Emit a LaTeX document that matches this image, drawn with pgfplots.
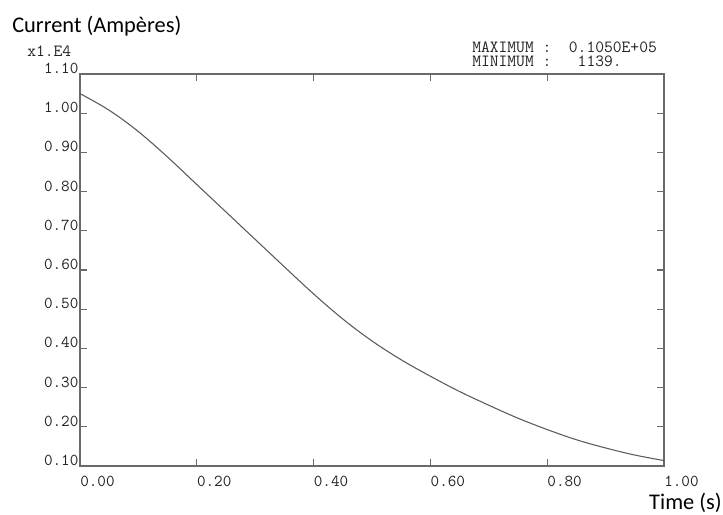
\documentclass[border=0pt]{standalone}
\usepackage{fontspec}
\usepackage{pgfplots}
\pgfplotsset{compat=1.18}
\newfontfamily\carlito{Carlito}
\definecolor{axisgray}{HTML}{6A6A6A}
\definecolor{curvegray}{HTML}{5A5A5A}
\definecolor{txt}{HTML}{222222}
\begin{document}
\begin{tikzpicture}[x=0.75pt,y=-0.75pt]
\useasboundingbox (0,0) rectangle (723,514);
\coordinate (O) at (80,466);
\begin{axis}[
  at={(O)}, anchor=south west,
  scale only axis,
  width=438pt, height=294pt,
  xmin=0, xmax=1, ymin=0.1, ymax=1.1,
  xtick={0,0.2,0.4,0.6,0.8,1.0},
  ytick={0.1,0.2,0.3,0.4,0.5,0.6,0.7,0.8,0.9,1.0,1.1},
  tick align=inside,
  major tick length=5pt,
  axis line style={axisgray, line width=0.9pt},
  every tick/.style={axisgray, line width=0.8pt},
  /pgf/number format/assume math mode=true,
  /pgf/number format/.cd, fixed, fixed zerofill, precision=2, /pgfplots/.cd,
  tick label style={font=\ttfamily\fontsize{12.5}{13}\selectfont, text=txt},
  xticklabel style={anchor=north west, inner sep=0pt, yshift=-7.5pt},
  yticklabel style={anchor=south east, inner sep=0pt, xshift=-1pt},
  clip=false,
]
\addplot[curvegray, line width=0.8pt, smooth, tension=0.6] coordinates {
(0,1.050)
(0.05,1.0075)
(0.10,0.953)
(0.15,0.888)
(0.20,0.818)
(0.25,0.748)
(0.30,0.678)
(0.35,0.608)
(0.40,0.539)
(0.45,0.475)
(0.50,0.419)
(0.55,0.371)
(0.60,0.329)
(0.65,0.290)
(0.70,0.255)
(0.75,0.222)
(0.80,0.193)
(0.85,0.167)
(0.90,0.146)
(0.95,0.128)
(1.00,0.1139)
};
\end{axis}
\node[anchor=base west, inner sep=0pt, font=\carlito\fontsize{16.8}{18}\selectfont] at (12,32) {Current (Ampères)};
\node[anchor=base west, inner sep=0pt, text=txt, font=\ttfamily\fontsize{12.8}{13}\selectfont] at (27,56) {x1.E4};
\node[anchor=north west, inner sep=0pt, text=txt, align=left, font=\ttfamily\fontsize{12.8}{10.5}\selectfont] at (472,42) {MAXIMUM :\ \ 0.1050E+05\\MINIMUM :\ \ \ 1139.};
\node[anchor=base east, inner sep=0pt, font=\carlito\fontsize{16.8}{18}\selectfont] at (722,509) {Time (s)};
\end{tikzpicture}
\end{document}
